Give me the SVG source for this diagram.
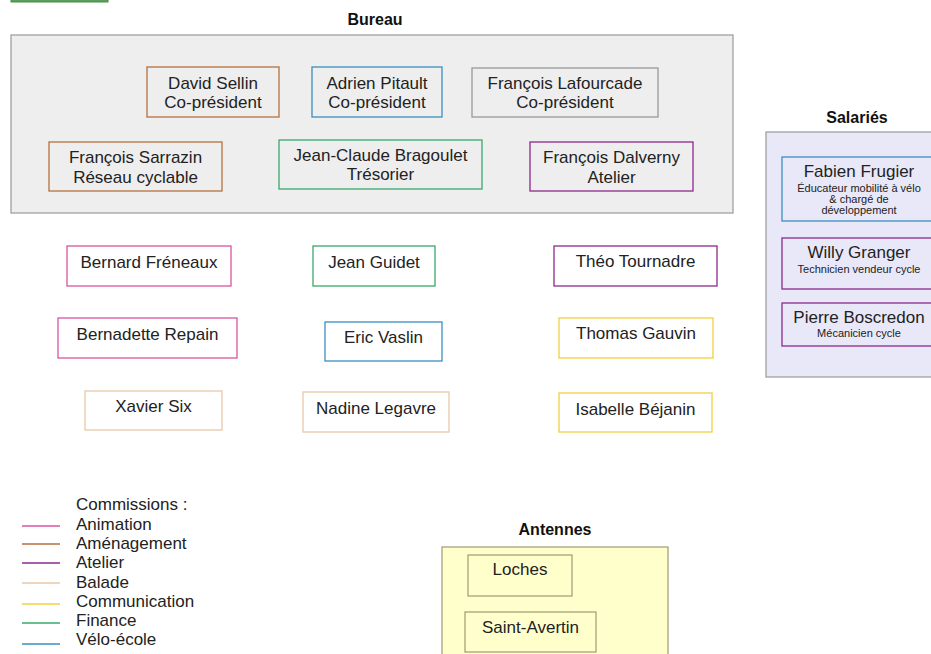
<svg xmlns="http://www.w3.org/2000/svg" width="931" height="654" viewBox="0 0 931 654">
<style>
text{font-family:"Liberation Sans",Arial,sans-serif;fill:#222;}
.t{font-size:17px;text-anchor:middle;}
.s{font-size:11px;text-anchor:middle;}
.h{font-size:16px;font-weight:bold;text-anchor:middle;fill:#111;}
.l{font-size:17px;}
.box{fill:none;stroke-width:1.3;}
.wb{fill:#fff;stroke-width:1.3;}
.anim{stroke:#d9559e;}
.amen{stroke:#b5703f;}
.atel{stroke:#8c2a8c;}
.bal{stroke:#e8c9a8;}
.com{stroke:#f0d040;}
.fin{stroke:#3aa86b;}
.velo{stroke:#3a8fc0;}
.gray{stroke:#999;}
.ant{fill:none;stroke:#a09a70;stroke-width:1.2;}
</style>
<rect x="0" y="0" width="931" height="654" fill="#fff"/>
<rect x="11" y="-20" width="97" height="22" fill="#5aa05a" stroke="#4a8a4a"/>

<g id="bureau">
<text class="h" x="375" y="25">Bureau</text>
<rect x="11" y="35" width="722" height="178" fill="#eeeeee" stroke="#999" stroke-width="1.2"/>
</g>
<g id="david-sellin"><rect class="box amen" x="147" y="67" width="132" height="50"/><text class="t" x="213" y="89">David Sellin</text><text class="t" x="213" y="108">Co-président</text></g>
<g id="adrien-pitault"><rect class="box velo" x="312" y="67" width="130" height="50"/><text class="t" x="377" y="89">Adrien Pitault</text><text class="t" x="377" y="108">Co-président</text></g>
<g id="francois-lafourcade"><rect class="box gray" x="472" y="68" width="186" height="49"/><text class="t" x="565" y="89">François Lafourcade</text><text class="t" x="565" y="108">Co-président</text></g>
<g id="francois-sarrazin"><rect class="box amen" x="49" y="142" width="173" height="49"/><text class="t" x="135.5" y="163">François Sarrazin</text><text class="t" x="135.5" y="183">Réseau cyclable</text></g>
<g id="jean-claude-bragoulet"><rect class="box fin" x="279" y="140" width="203" height="49"/><text class="t" x="380.5" y="161">Jean-Claude Bragoulet</text><text class="t" x="380.5" y="180">Trésorier</text></g>
<g id="francois-dalverny"><rect class="box atel" x="530" y="142" width="163" height="49"/><text class="t" x="611.5" y="163">François Dalverny</text><text class="t" x="611.5" y="183">Atelier</text></g>

<g id="bernard-freneaux"><rect class="wb anim" x="67" y="246" width="164" height="40"/><text class="t" x="149" y="268">Bernard Fréneaux</text></g>
<g id="jean-guidet"><rect class="wb fin" x="313" y="246" width="122" height="40"/><text class="t" x="374" y="268">Jean Guidet</text></g>
<g id="theo-tournadre"><rect class="wb atel" x="554" y="246" width="163" height="40"/><text class="t" x="635.5" y="267">Théo Tournadre</text></g>
<g id="bernadette-repain"><rect class="wb anim" x="58" y="318" width="179" height="40"/><text class="t" x="147.5" y="340">Bernadette Repain</text></g>
<g id="eric-vaslin"><rect class="wb velo" x="325" y="322" width="117" height="39"/><text class="t" x="383.5" y="343">Eric Vaslin</text></g>
<g id="thomas-gauvin"><rect class="wb com" x="559" y="318" width="154" height="40"/><text class="t" x="636" y="339">Thomas Gauvin</text></g>
<g id="xavier-six"><rect class="wb bal" x="85" y="391" width="137" height="39"/><text class="t" x="153.5" y="412">Xavier Six</text></g>
<g id="nadine-legavre"><rect class="wb bal" x="303" y="392" width="146" height="40"/><text class="t" x="376" y="414">Nadine Legavre</text></g>
<g id="isabelle-bejanin"><rect class="wb com" x="559" y="393" width="153" height="39"/><text class="t" x="635.5" y="415">Isabelle Béjanin</text></g>

<g id="salaries">
<text class="h" x="857" y="123">Salariés</text>
<rect x="766" y="132" width="190" height="245" fill="#e8e8f8" stroke="#999" stroke-width="1.2"/>
</g>
<g id="fabien-frugier"><rect class="box velo" x="782" y="157" width="156" height="64"/><text class="t" x="859" y="177">Fabien Frugier</text><text class="s" x="859" y="192">Éducateur mobilité à vélo</text><text class="s" x="859" y="203">&amp; chargé de</text><text class="s" x="859" y="214">développement</text></g>
<g id="willy-granger"><rect class="box atel" x="782" y="238" width="156" height="51"/><text class="t" x="859" y="258">Willy Granger</text><text class="s" x="859" y="273">Technicien vendeur cycle</text></g>
<g id="pierre-boscredon"><rect class="box atel" x="782" y="303" width="156" height="43"/><text class="t" x="859" y="323">Pierre Boscredon</text><text class="s" x="859" y="337">Mécanicien cycle</text></g>

<g id="legend">
<text class="l" x="76" y="510">Commissions :</text>
<line class="anim" x1="22" y1="526" x2="60" y2="526" stroke-width="1.3"/><text class="l" x="76" y="530">Animation</text>
<line class="amen" x1="22" y1="544" x2="60" y2="544" stroke-width="1.3"/><text class="l" x="76" y="549">Aménagement</text>
<line class="atel" x1="22" y1="563" x2="60" y2="563" stroke-width="1.3"/><text class="l" x="76" y="568">Atelier</text>
<line class="bal" x1="22" y1="583" x2="60" y2="583" stroke-width="1.3"/><text class="l" x="76" y="588">Balade</text>
<line class="com" x1="22" y1="604" x2="60" y2="604" stroke-width="1.3"/><text class="l" x="76" y="607">Communication</text>
<line class="fin" x1="22" y1="623" x2="60" y2="623" stroke-width="1.3"/><text class="l" x="76" y="626">Finance</text>
<line class="velo" x1="22" y1="644" x2="60" y2="644" stroke-width="1.3"/><text class="l" x="76" y="645">Vélo-école</text>
</g>

<g id="antennes">
<text class="h" x="555" y="535">Antennes</text>
<rect x="442" y="547" width="226" height="120" fill="#ffffcc" stroke="#a09a70" stroke-width="1.2"/>
</g>
<g id="loches"><rect class="ant" x="468" y="555" width="104" height="41"/><text class="t" x="520" y="575">Loches</text></g>
<g id="saint-avertin"><rect class="ant" x="465" y="612" width="131" height="40"/><text class="t" x="530.5" y="633">Saint-Avertin</text></g>

<g id="connectors"></g>
</svg>
